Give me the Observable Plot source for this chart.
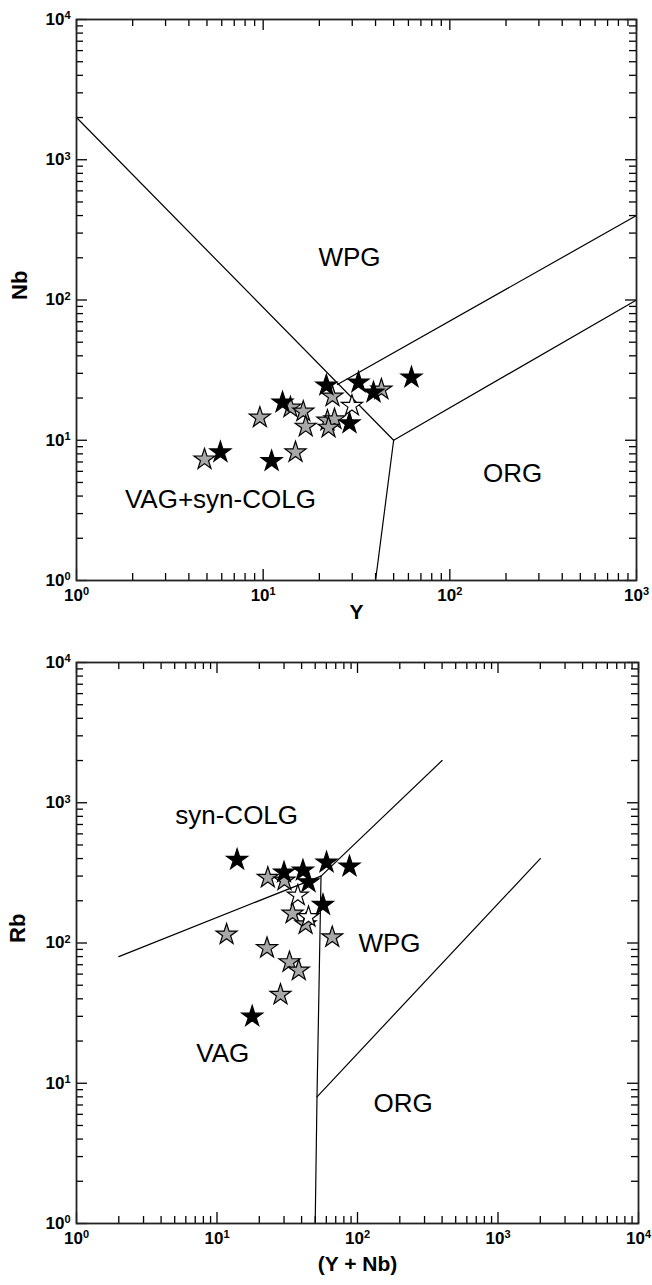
<!DOCTYPE html>
<html><head><meta charset="utf-8">
<script src="https://cdn.jsdelivr.net/npm/d3@7"></script>
<script src="https://cdn.jsdelivr.net/npm/@observablehq/plot@0.6"></script>
<style>body{margin:0;background:#fff;} svg{display:block;}</style>
</head><body><div id="chart"></div>
<script>
// ---------- Data: Nb vs Y ----------
const topBlack = [
  {x: 5.9, y: 8.2}, {x: 11.1, y: 7.1}, {x: 12.7, y: 18.6}, {x: 21.8, y: 24.6},
  {x: 29.0, y: 13.2}, {x: 32.4, y: 25.8}, {x: 39.0, y: 21.9}, {x: 62.3, y: 28.0}
];
const topGray = [
  {x: 4.85, y: 7.3}, {x: 14.9, y: 8.2}, {x: 9.6, y: 14.5}, {x: 14.0, y: 17.1},
  {x: 16.4, y: 16.0}, {x: 16.9, y: 12.5}, {x: 23.5, y: 20.5}, {x: 22.1, y: 13.8},
  {x: 24.1, y: 14.1}, {x: 22.4, y: 12.3}, {x: 43.0, y: 23.0}
];
const topWhite = [{x: 29.9, y: 17.6}];
const topBoundaries = [
  [[1, 2000], [50, 10]],
  [[50, 10], [1000, 100]],
  [[50, 10], [40, 1]],
  [[25, 25], [1000, 400]]
];
const topLabels = [
  {x: 29, y: 201, text: "WPG"},
  {x: 217, y: 5.8, text: "ORG"},
  {x: 5.9, y: 3.78, text: "VAG+syn-COLG"}
];

// ---------- Data: Rb vs (Y + Nb) ----------
const botBlack = [
  {x: 13.9, y: 392}, {x: 30.0, y: 318}, {x: 40.9, y: 329}, {x: 44.8, y: 271},
  {x: 60.2, y: 375}, {x: 87.7, y: 351}, {x: 56.8, y: 187}, {x: 17.8, y: 29.9}
];
const botGray = [
  {x: 23.0, y: 292}, {x: 30.2, y: 279}, {x: 34.5, y: 162}, {x: 42.7, y: 136},
  {x: 66.1, y: 110}, {x: 11.7, y: 115}, {x: 22.7, y: 92}, {x: 32.8, y: 73},
  {x: 38.2, y: 63.7}, {x: 28.3, y: 42.8}
];
const botWhite = [{x: 37.6, y: 218}, {x: 44.8, y: 153}];
const botBoundaries = [
  [[2, 80], [55, 300]],
  [[55, 300], [400, 2000]],
  [[50, 1], [51.5, 8], [55, 300]],
  [[51.5, 8], [2000, 400]]
];
const botLabels = [
  {x: 13.8, y: 811, text: "syn-COLG"},
  {x: 169, y: 99, text: "WPG"},
  {x: 11.0, y: 16.3, text: "VAG"},
  {x: 211, y: 7.17, text: "ORG"}
];

const FONT = "'Liberation Sans', Arial, Helvetica, sans-serif";
const W = 652;

function decades(a, b) { const r = []; for (let e = a; e <= b; e++) r.push(10 ** e); return r; }
function minors(a, b) { const r = []; for (let e = a; e < b; e++) for (let k = 2; k <= 9; k++) r.push(k * 10 ** e); return r; }

function panel(o) {
  const innerH = o.height - o.marginTop - o.marginBottom;
  const innerW = W - o.marginLeft - o.marginRight;
  const xMaj = decades(o.xe[0], o.xe[1]), xMin = minors(o.xe[0], o.xe[1]);
  const yMaj = decades(o.ye[0], o.ye[1]), yMin = minors(o.ye[0], o.ye[1]);
  const tk = {stroke: "black", strokeWidth: 1.3};
  const M = 11, m = 7;
  const star = (data, fill) => Plot.dot(data, {x: "x", y: "y", symbol: "star", r: 6.6, fill, stroke: "black", strokeWidth: 1.2});
  const svg = Plot.plot({
    width: W, height: o.height,
    marginLeft: o.marginLeft, marginRight: o.marginRight, marginTop: o.marginTop, marginBottom: o.marginBottom,
    style: {fontFamily: FONT, background: "white", overflow: "visible"},
    x: {type: "log", domain: [10 ** o.xe[0], 10 ** o.xe[1]], axis: null},
    y: {type: "log", domain: [10 ** o.ye[0], 10 ** o.ye[1]], axis: null},
    marks: [
      ...o.boundaries.map(seg => Plot.line(seg, {x: d => d[0], y: d => d[1], stroke: "black", strokeWidth: 1.2})),
      Plot.ruleX(xMaj, {x: d => d, insetTop: innerH - M, ...tk}),
      Plot.ruleX(xMaj, {x: d => d, insetBottom: innerH - M, ...tk}),
      Plot.ruleX(xMin, {x: d => d, insetTop: innerH - m, ...tk}),
      Plot.ruleX(xMin, {x: d => d, insetBottom: innerH - m, ...tk}),
      Plot.ruleY(yMaj, {y: d => d, insetRight: innerW - M, ...tk}),
      Plot.ruleY(yMaj, {y: d => d, insetLeft: innerW - M, ...tk}),
      Plot.ruleY(yMin, {y: d => d, insetRight: innerW - m, ...tk}),
      Plot.ruleY(yMin, {y: d => d, insetLeft: innerW - m, ...tk}),
      Plot.frame({stroke: "#222", strokeWidth: 1.8}),
      Plot.text(xMaj, {x: d => d, frameAnchor: "bottom", dy: 20, text: d => "10^" + Math.round(Math.log10(d)),
        fontSize: 17, fontWeight: "bold", fill: "black"}),
      Plot.text(yMaj, {y: d => d, frameAnchor: "left", dx: -6, textAnchor: "end", text: d => "10^" + Math.round(Math.log10(d)),
        fontSize: 17, fontWeight: "bold", fill: "black"}),
      Plot.text([o.xTitle], {frameAnchor: "bottom", dy: o.xTitleDy, text: d => d, fontSize: 21, fontWeight: "bold", fill: "black"}),
      Plot.text([o.yTitle], {frameAnchor: "left", dx: o.yTitleDx, rotate: -90, text: d => d, fontSize: 22, fontWeight: "bold", fill: "black"}),
      Plot.text(o.labels, {x: "x", y: "y", text: "text", fontSize: 26, fill: "black"}),
      star(o.gray, "#a8a8a8"),
      star(o.white, "white"),
      star(o.black, "black")
    ]
  });
  d3.select(svg).selectAll("text").each(function () {
    const t = this.textContent;
    if (!t.includes("^")) return;
    const [b, e] = t.split("^");
    const s = d3.select(this);
    s.selectAll("*").remove();
    s.text(null);
    s.append("tspan").text(b);
    s.append("tspan").attr("dy", "-0.5em").attr("font-size", "11px").text(e);
  });
  return svg;
}

const root = document.getElementById("chart");
root.appendChild(panel({
  height: 640, marginTop: 19, marginBottom: 60, marginLeft: 76, marginRight: 16,
  xe: [0, 3], ye: [0, 4], boundaries: topBoundaries, labels: topLabels,
  black: topBlack, gray: topGray, white: topWhite,
  xTitle: "Y", yTitle: "Nb", xTitleDy: 38, yTitleDx: -57
}));
root.appendChild(panel({
  height: 645, marginTop: 22, marginBottom: 62, marginLeft: 76, marginRight: 14,
  xe: [0, 4], ye: [0, 4], boundaries: botBoundaries, labels: botLabels,
  black: botBlack, gray: botGray, white: botWhite,
  xTitle: "(Y + Nb)", yTitle: "Rb", xTitleDy: 47, yTitleDx: -59
}));
</script></body></html>
